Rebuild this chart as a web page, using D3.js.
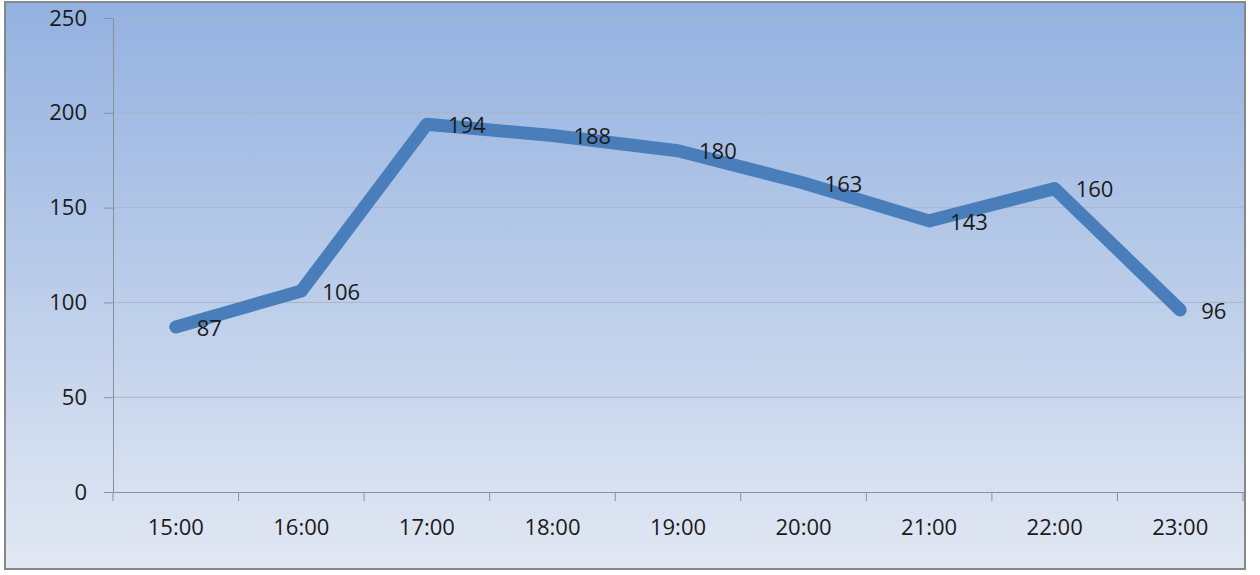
<!DOCTYPE html>
<html><head><meta charset="utf-8">
<script src="https://cdn.jsdelivr.net/npm/d3@7"></script>
<style>body{margin:0;background:#fff;}svg{display:block;font-family:"Open Sans",sans-serif;}</style>
</head><body><svg id="c" width="1260" height="575"></svg>
<script>
const categories = ["15:00","16:00","17:00","18:00","19:00","20:00","21:00","22:00","23:00"];
const values = [87,106,194,188,180,163,143,160,96];
const yTicks = [0,50,100,150,200,250];

const svg = d3.select("#c");
const defs = svg.append("defs");
const g1 = defs.append("linearGradient").attr("id","bg").attr("x1",0).attr("y1",0).attr("x2",0).attr("y2",1);
g1.append("stop").attr("offset","0%").attr("stop-color","#93b1e0");
g1.append("stop").attr("offset","100%").attr("stop-color","#e2e8f3");

svg.append("rect").attr("x",5).attr("y",2).attr("width",1240).attr("height",567)
  .attr("fill","url(#bg)").attr("stroke","#878787").attr("stroke-width",2);

const x = d3.scaleBand().domain(categories).range([113,1243]);
const y = d3.scaleLinear().domain([0,250]).range([492,18]);

// gridlines
svg.append("g").selectAll("line").data(yTicks.filter(d=>d>0)).join("line")
  .attr("x1",113).attr("x2",1243).attr("y1",d=>y(d)).attr("y2",d=>y(d))
  .attr("stroke","#aab6c6").attr("stroke-width",1);

// y axis
const ya = svg.append("g").attr("transform","translate(113,0)")
  .call(d3.axisLeft(y).tickValues(yTicks).tickSize(9).tickPadding(17));
ya.select(".domain").attr("stroke","#8a8f98");
ya.selectAll(".tick line").attr("stroke","#8a8f98");
ya.selectAll("text").attr("font-size","22px").attr("fill","#1a1a1a").attr("font-family","Open Sans");

// x axis
const xa = svg.append("g").attr("transform","translate(0,492)")
  .call(d3.axisBottom(x).tickSize(0).tickPadding(27));
xa.select(".domain").attr("stroke","#8a8f98");
xa.selectAll("text").attr("font-size","22px").attr("fill","#1a1a1a").attr("font-family","Open Sans");
const bounds = categories.map(c=>x(c)).concat([x.range()[1]]);
svg.append("g").selectAll("line").data(bounds).join("line")
  .attr("x1",d=>d).attr("x2",d=>d).attr("y1",492).attr("y2",501)
  .attr("stroke","#8a8f98");

// line
const line = d3.line().x((d,i)=>x(categories[i])+x.bandwidth()/2).y(d=>y(d));
svg.append("path").datum(values).attr("d",line).attr("fill","none")
  .attr("stroke","#4a7ebb").attr("stroke-width",13)
  .attr("stroke-linejoin","round").attr("stroke-linecap","round");

// labels
svg.append("g").selectAll("text").data(values).join("text")
  .attr("x",(d,i)=>x(categories[i])+x.bandwidth()/2+21)
  .attr("y",d=>y(d)+1)
  .attr("dy","0.35em")
  .attr("font-size","22px").attr("fill","#1a1a1a")
  .text(d=>d);
</script></body></html>
